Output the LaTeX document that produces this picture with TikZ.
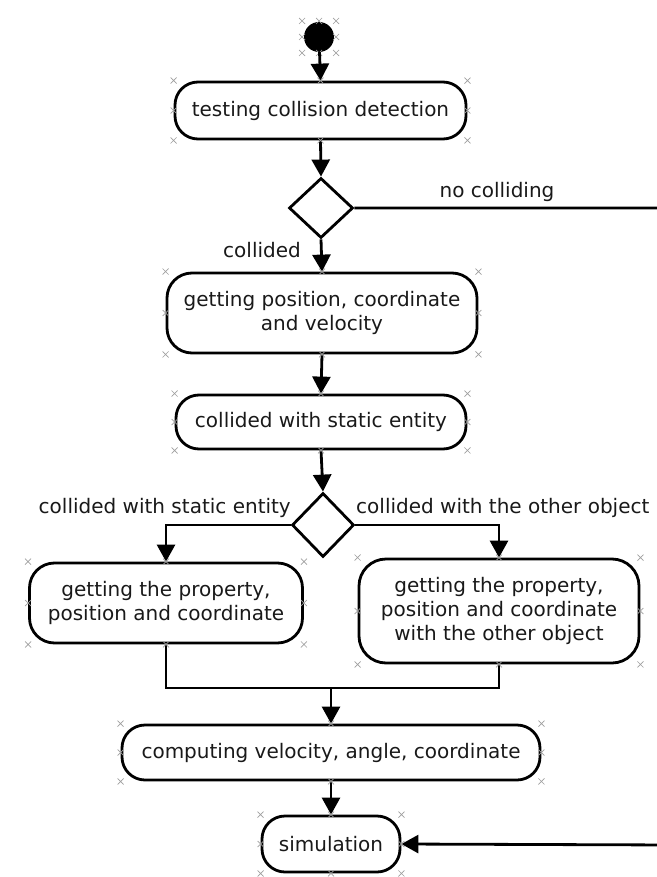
\documentclass[tikz,border=0pt]{standalone}
\usepackage{fontspec}
\setmainfont{DejaVu Sans}
\usetikzlibrary{arrows.meta,shapes.geometric}

% small selection handles around a node
\newcommand\selhandles[1]{%
  \foreach \a in {north west,north,north east,east,south east,south,south west,west}{%
    \draw[handle] ([shift={(-3pt,-3pt)}]#1.\a) -- ++(6pt,6pt)
                  ([shift={(-3pt,3pt)}]#1.\a) -- ++(6pt,-6pt);}}

\begin{document}
\begin{tikzpicture}[x=1pt,y=-1pt,
  txt/.style={font=\fontsize{20}{24}\selectfont, text=black!90},
  act/.style={txt, draw, line width=2.8pt, rounded corners=23pt, align=center, inner sep=0pt},
  choice/.style={diamond, draw, line width=2.8pt, inner sep=0pt},
  flow/.style={line width=2.8pt, -{Triangle[width=18pt,length=17pt]}},
  wire/.style={line width=2.8pt},
  lbl/.style={txt, inner sep=0pt},
  handle/.style={draw=gray!75, line width=0.7pt}]

\useasboundingbox (0,0) rectangle (656,877);

% initial state
\node[circle, fill=black, minimum size=30pt, inner sep=0pt] (start) at (319,37) {};
\foreach \dx/\dy in {-17/-16,0/-16,17/-16,17/0,17/16,0/16,-17/16,-17/0}{
  \draw[handle] ([shift={(\dx pt-3pt,\dy pt-3pt)}]start.center) -- ++(6pt,6pt)
                ([shift={(\dx pt-3pt,\dy pt+3pt)}]start.center) -- ++(6pt,-6pt);}

% activities and decisions
\node[act, minimum width=291pt, minimum height=57pt] (test) at (320.5,110.5) {testing collision detection};
\node[choice, minimum width=64pt, minimum height=60pt] (hit) at (321,208) {};
\node[act, minimum width=310pt, minimum height=80pt, rounded corners=25pt] (pos) at (322,313)
  {getting position, coordinate\\and velocity};
\node[act, minimum width=290pt, minimum height=54pt] (stat) at (321,422) {collided with static entity};
\node[choice, minimum width=62pt, minimum height=64pt] (kind) at (323,525) {};
\node[act, minimum width=273pt, minimum height=80pt, rounded corners=25pt] (propS) at (166,603)
  {getting the property,\\position and coordinate};
\node[act, minimum width=280pt, minimum height=104pt, rounded corners=27pt] (propO) at (499,611)
  {getting the property,\\position and coordinate\\with the other object};
\node[act, minimum width=418pt, minimum height=55pt] (comp) at (331,752.5) {computing velocity, angle, coordinate};
\node[act, minimum width=138pt, minimum height=56pt] (sim) at (331,844) {simulation};

% guard labels
\node[lbl] (lNo) at (497,192) {no colliding};
\node[lbl] (lHit) at (262,250) {collided};
\node[lbl, anchor=east] (lStat) at (291,508) {collided with static entity};
\node[lbl, anchor=west] (lObj) at (356,508) {collided with the other object};

% connectors
\coordinate (merge) at (331,688);
\coordinate (outA) at (675,208);
\coordinate (outB) at (675,845);

\draw[flow] (start) -- (test.north);
\draw[flow] (test.south) -- (hit.north);
\draw[flow] (hit.south) -- (pos.north);
\draw[flow] (pos.south) -- (stat.north);
\draw[flow] (stat.south) -- (kind.north);
\draw[flow] (kind.west) -| (propS.north);
\draw[flow] (kind.east) -| (propO.north);
\draw[wire] (propS.south) -- (propS.south |- merge) -- (propO.south |- merge) -- (propO.south);
\draw[flow] (merge) -- (comp.north);
\draw[flow] (comp.south) -- (sim.north);
\draw[flow] (hit.east) -- (outA) -- (outB) -- (sim.east);

% selection handles
\foreach \n in {test,pos,stat,propS,propO,comp,sim}{\selhandles{\n}}
\end{tikzpicture}
\end{document}
